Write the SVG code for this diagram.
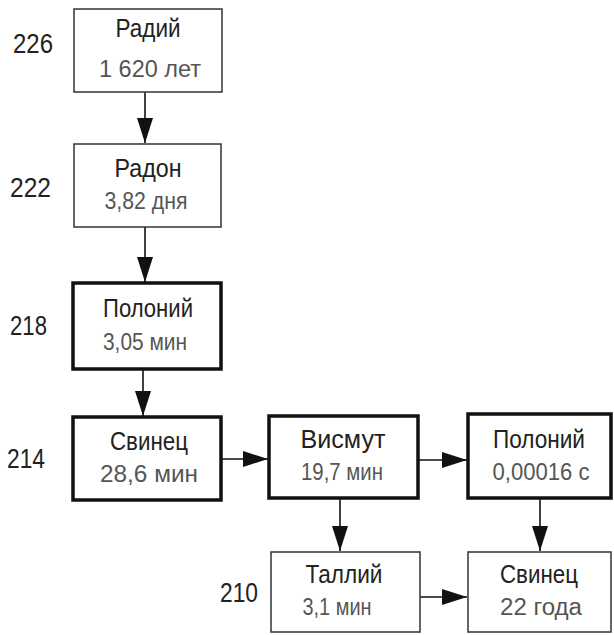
<svg xmlns="http://www.w3.org/2000/svg" width="614" height="635" viewBox="0 0 614 635">
<defs>
<marker id="ah" markerUnits="userSpaceOnUse" markerWidth="26" markerHeight="16" viewBox="0 0 26 16" refX="25" refY="8" orient="auto">
<path d="M0,0 L25,8 L0,16 Z" fill="#111"/>
</marker>
<style>
.thin{fill:#fff;stroke:#333;stroke-width:1.5}
.thick{fill:#fff;stroke:#111;stroke-width:3.5}
.t{font-family:"Liberation Sans",Arial,sans-serif;font-size:25px;fill:#222;text-anchor:middle}
.v{font-family:"Liberation Sans",Arial,sans-serif;font-size:23px;fill:#555;text-anchor:middle}
.n{font-family:"Liberation Sans",Arial,sans-serif;font-size:27px;fill:#222}
.c{stroke:#111;stroke-width:1.6;fill:none;marker-end:url(#ah)}
</style>
</defs>
<g id="labels">
<text class="n" x="13" y="53" textLength="40" lengthAdjust="spacingAndGlyphs">226</text>
<text class="n" x="10" y="197" textLength="41" lengthAdjust="spacingAndGlyphs">222</text>
<text class="n" x="10" y="335" textLength="37" lengthAdjust="spacingAndGlyphs">218</text>
<text class="n" x="7" y="468" textLength="38" lengthAdjust="spacingAndGlyphs">214</text>
<text class="n" x="220" y="602" textLength="38" lengthAdjust="spacingAndGlyphs">210</text>
</g>
<g id="connectors">
<line class="c" x1="145" y1="92" x2="145" y2="143"/>
<line class="c" x1="145" y1="227" x2="145" y2="282"/>
<line class="c" x1="143" y1="369" x2="143" y2="416"/>
<line class="c" x1="221" y1="459" x2="268" y2="459"/>
<line class="c" x1="418" y1="460" x2="467" y2="460"/>
<line class="c" x1="340" y1="498" x2="340" y2="551"/>
<line class="c" x1="540" y1="498" x2="540" y2="551"/>
<line class="c" x1="420" y1="597" x2="467" y2="597"/>
</g>
<g id="radium">
<rect class="thin" x="74" y="9" width="148" height="83"/>
<text class="t" x="148" y="37" textLength="65" lengthAdjust="spacingAndGlyphs">Радий</text>
<text class="v" x="150" y="77" textLength="102" lengthAdjust="spacingAndGlyphs">1 620 лет</text>
</g>
<g id="radon">
<rect class="thin" x="74" y="144" width="147" height="83"/>
<text class="t" x="148" y="177" textLength="67" lengthAdjust="spacingAndGlyphs">Радон</text>
<text class="v" x="146" y="209" textLength="83" lengthAdjust="spacingAndGlyphs">3,82 дня</text>
</g>
<g id="polonium218">
<rect class="thick" x="73" y="283" width="148" height="86"/>
<text class="t" x="148" y="317" textLength="90" lengthAdjust="spacingAndGlyphs">Полоний</text>
<text class="v" x="145" y="350" textLength="84" lengthAdjust="spacingAndGlyphs">3,05 мин</text>
</g>
<g id="lead214">
<rect class="thick" x="73" y="417" width="148" height="83"/>
<text class="t" x="149" y="450" textLength="78" lengthAdjust="spacingAndGlyphs">Свинец</text>
<text class="v" x="149" y="482" textLength="98" lengthAdjust="spacingAndGlyphs">28,6 мин</text>
</g>
<g id="bismuth">
<rect class="thick" x="269" y="416" width="149" height="82"/>
<text class="t" x="343" y="448" textLength="85" lengthAdjust="spacingAndGlyphs">Висмут</text>
<text class="v" x="342" y="480" textLength="82" lengthAdjust="spacingAndGlyphs">19,7 мин</text>
</g>
<g id="polonium214">
<rect class="thick" x="468" y="414" width="143" height="84"/>
<text class="t" x="539" y="448" textLength="92" lengthAdjust="spacingAndGlyphs">Полоний</text>
<text class="v" x="541" y="480" textLength="97" lengthAdjust="spacingAndGlyphs">0,00016 с</text>
</g>
<g id="thallium">
<rect class="thin" x="271" y="552" width="149" height="80"/>
<text class="t" x="344" y="583" textLength="77" lengthAdjust="spacingAndGlyphs">Таллий</text>
<text class="v" x="337" y="615" textLength="69" lengthAdjust="spacingAndGlyphs">3,1 мин</text>
</g>
<g id="lead210">
<rect class="thin" x="468" y="552" width="143" height="80"/>
<text class="t" x="539" y="583" textLength="78" lengthAdjust="spacingAndGlyphs">Свинец</text>
<text class="v" x="541" y="615" textLength="82" lengthAdjust="spacingAndGlyphs">22 года</text>
</g>
</svg>
